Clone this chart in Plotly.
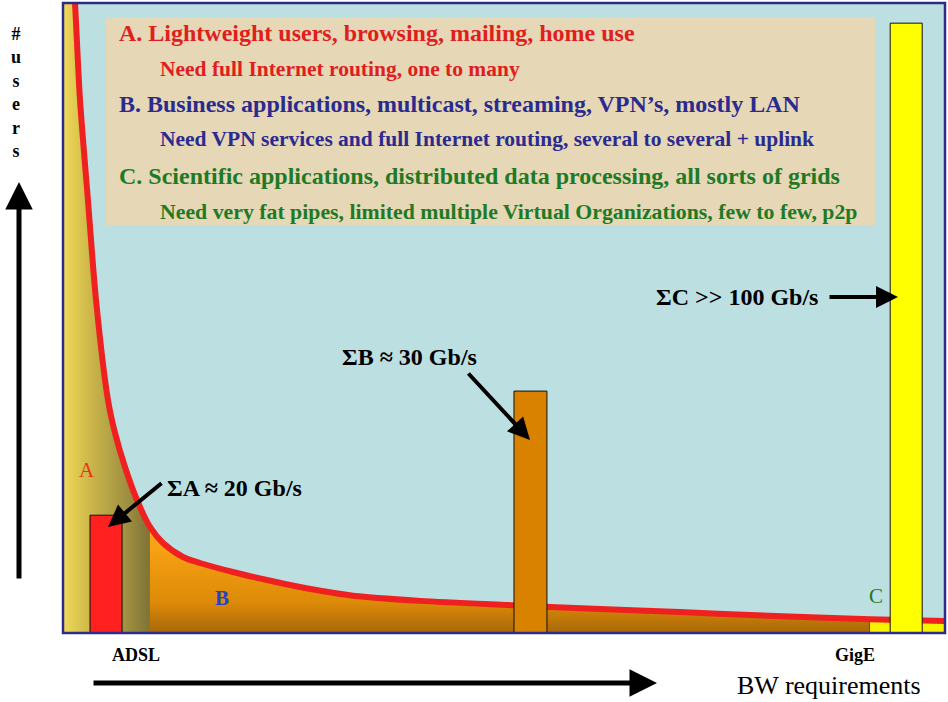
import plotly.graph_objects as go

# ---------------- data ----------------
# user-count curve (# users vs. bandwidth requirement), in axis units 0..100
curve_bw    = [0.91, 1.36, 1.93, 2.83, 3.74, 5.10, 5.90, 7.03, 8.39, 9.86, 11.34, 13.61,
               15.53, 19.27, 23.13, 26.87, 32.5, 40.5, 51.2, 60.9, 69.95, 77.9, 91.5, 100.1]
curve_users = [110, 100, 84.6, 68.7, 52.9, 37.0, 31.75, 26.35, 21.11, 16.83, 14.29, 12.06,
               11.11, 9.68, 8.41, 7.30, 6.0, 5.1, 4.4, 3.8, 3.33, 2.86, 2.2, 1.9]

# band edges along the bandwidth axis (A | B | C)
band_edges = [0.0, 9.86, 91.5, 100.1]

# aggregate bandwidth bars
bar_names   = ["ΣA", "ΣB", "ΣC"]
bar_pos     = [4.88, 53.0, 95.6]
bar_width   = [3.63, 3.74, 3.63]
bar_height  = [18.7, 38.4, 96.8]
bar_colors  = ["#FF2020", "#D88200", "#FFFF00"]

legend_lines = [
    ("A. Lightweight users, browsing, mailing, home use", "#E01E1E", 24, 117, 33),
    ("Need full Internet routing, one to many", "#E01E1E", 21.5, 158, 69),
    ("B. Business applications, multicast, streaming, VPN’s, mostly LAN", "#2B2B8F", 24, 117, 104),
    ("Need VPN services and full Internet routing, several to several + uplink", "#2B2B8F", 21.5, 158, 139),
    ("C. Scientific applications, distributed data processing, all sorts of grids", "#1E7A24", 24, 117, 176),
    ("Need very fat pipes, limited multiple Virtual Organizations, few to few, p2p", "#1E7A24", 21.8, 158, 212),
]

y_title = "#users"

# ---------------- layout helpers ----------------
W, H = 948, 702
L, R, T, B = 63, 3, 3, 69
PW, PH = W - L - R, H - T - B


def px(x):
    return (x - L) / PW


def py(y):
    return (H - B - y) / PH


SERIF = "Liberation Serif, Times New Roman, serif"


def band_polygon(x0, x1, top_left=None):
    xs, ys = [], []
    if top_left is not None:
        xs.append(x0)
        ys.append(top_left)
    for bx, uy in zip(curve_bw, curve_users):
        if x0 <= bx <= x1 + 1e-9:
            xs.append(bx)
            ys.append(uy)
    xs += [x1, x0]
    ys += [0, 0]
    return xs, ys


fig = go.Figure()

# band A (olive/yellow, horizontal gradient)
xa, ya = band_polygon(band_edges[0], band_edges[1], top_left=curve_users[0])
fig.add_trace(go.Scatter(
    x=xa, y=ya, mode="lines", fill="toself", line=dict(width=0),
    fillgradient=dict(type="horizontal",
                      colorscale=[[0, "#F0DA58"], [0.3, "#CDB84A"], [0.7, "#A39342"], [1, "#7E7236"]]),
    hoverinfo="skip", showlegend=False))

# band B (orange, vertical gradient)
xb, yb = band_polygon(band_edges[1], band_edges[2])
fig.add_trace(go.Scatter(
    x=xb, y=yb, mode="lines", fill="toself", line=dict(width=1, color="#3A2A10"),
    fillgradient=dict(type="vertical", start=0, stop=16,
                      colorscale=[[0, "#A86808"], [0.3, "#DC8A08"], [1, "#FFA816"]]),
    hoverinfo="skip", showlegend=False))

# band C (yellow)
xc, yc = band_polygon(band_edges[2], band_edges[3])
fig.add_trace(go.Scatter(
    x=xc, y=yc, mode="lines", fill="toself", line=dict(width=1, color="#202010"),
    fillcolor="#F6F200", hoverinfo="skip", showlegend=False))

# red curve
fig.add_trace(go.Scatter(
    x=curve_bw, y=curve_users, mode="lines",
    line=dict(color="#EE2020", width=6, shape="spline", smoothing=0.8),
    hoverinfo="skip", showlegend=False))

# bars (drawn as filled rectangles so they sit above the curve)
for name, c, w, h, col in zip(bar_names, bar_pos, bar_width, bar_height, bar_colors):
    fig.add_trace(go.Scatter(
        x=[c - w / 2, c + w / 2, c + w / 2, c - w / 2, c - w / 2],
        y=[0, 0, h, h, 0], mode="lines", fill="toself", name=name,
        fillcolor=col, line=dict(color="#101010", width=1),
        hoverinfo="skip", showlegend=False))

shapes = [
    # parchment legend box
    dict(type="rect", xref="paper", yref="paper", x0=px(106), x1=px(875), y0=py(225), y1=py(17),
         fillcolor="#E6D7B6", line=dict(width=0), layer="below"),
    # plot frame
    dict(type="rect", xref="paper", yref="paper", x0=0, x1=1, y0=0, y1=1,
         line=dict(color="#2C2C88", width=2.5), fillcolor="rgba(0,0,0,0)", layer="above"),
]

ann = []
for text, color, size, x, y in legend_lines:
    ann.append(dict(xref="paper", yref="paper", x=px(x), y=py(y), text=f"<b>{text}</b>",
                    showarrow=False, xanchor="left", yanchor="middle",
                    font=dict(family=SERIF, size=size, color=color)))

# vertical axis title, stacked letters in one text block
ann.append(dict(xref="paper", yref="paper", x=px(16), y=py(22), text="<b>" + "<br>".join(y_title) + "</b>",
                showarrow=False, xanchor="center", yanchor="top", align="center",
                font=dict(family=SERIF, size=18, color="black")))

# big axis arrows
ann.append(dict(xref="paper", yref="paper", x=px(19), y=py(182), ax=0, ay=398, text="",
                showarrow=True, arrowhead=2, arrowsize=1.1, arrowwidth=5, arrowcolor="black"))
ann.append(dict(xref="paper", yref="paper", x=px(657), y=py(683), ax=-565, ay=0, text="",
                showarrow=True, arrowhead=2, arrowsize=1.1, arrowwidth=5, arrowcolor="black"))


def label(x, y, text, size, color="black", bold=False):
    t = f"<b>{text}</b>" if bold else text
    return dict(xref="paper", yref="paper", x=px(x), y=py(y), text=t, showarrow=False,
                xanchor="center", yanchor="middle", font=dict(family=SERIF, size=size, color=color))


# axis labels
ann.append(label(136, 655, "ADSL", 18, bold=True))
ann.append(label(855, 655, "GigE", 18, bold=True))
ann.append(label(829, 685, "BW requirements", 26))

# band letters
ann.append(label(87, 470, "A", 21, "#E23818"))
ann.append(label(222, 598, "B", 21, "#2840C8", bold=True))
ann.append(label(876, 596, "C", 21, "#1E7A24"))

# sums
ann.append(label(234, 488, "ΣA ≈ 20 Gb/s", 24, bold=True))
ann.append(label(409, 357, "ΣB ≈ 30 Gb/s", 24, bold=True))
ann.append(label(737, 297, "ΣC >> 100 Gb/s", 24, bold=True))

ann.append(dict(xref="paper", yref="paper", x=px(108), y=py(527), ax=55, ay=-45, text="",
                showarrow=True, arrowhead=2, arrowsize=1.1, arrowwidth=4, arrowcolor="black"))
ann.append(dict(xref="paper", yref="paper", x=px(530), y=py(440), ax=-63, ay=-68, text="",
                showarrow=True, arrowhead=2, arrowsize=1.1, arrowwidth=4, arrowcolor="black"))
ann.append(dict(xref="paper", yref="paper", x=px(898), y=py(297), ax=-70, ay=0, text="",
                showarrow=True, arrowhead=2, arrowsize=1.1, arrowwidth=4, arrowcolor="black"))

fig.update_layout(
    width=W, height=H,
    margin=dict(l=L, r=R, t=T, b=B, pad=0),
    paper_bgcolor="white", plot_bgcolor="#BCDFE2",
    xaxis=dict(range=[0, 100], visible=False, fixedrange=True),
    yaxis=dict(range=[0, 100], visible=False, fixedrange=True),
    shapes=shapes, annotations=ann,
    showlegend=False,
)

fig.write_html("out.html")
